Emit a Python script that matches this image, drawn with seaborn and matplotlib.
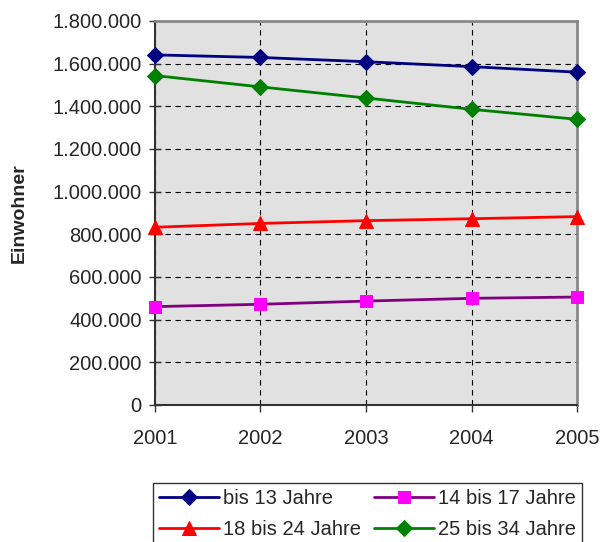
import matplotlib
matplotlib.use("Agg")
import matplotlib.pyplot as plt
import pandas as pd
import seaborn as sns
from matplotlib.ticker import FuncFormatter, MultipleLocator

# Einwohner nach Altersgruppen
YEARS = [2001, 2002, 2003, 2004, 2005]
BIS_13 = [1641000, 1629000, 1609000, 1586000, 1560000]
BIS_17 = [461000, 472000, 487000, 500000, 506000]
BIS_24 = [833000, 851000, 864000, 873000, 883000]
BIS_34 = [1544000, 1491000, 1439000, 1386000, 1339000]

SERIES = [
    ("bis 13 Jahre", BIS_13, "#000080", "#000080", "D", 8),
    ("14 bis 17 Jahre", BIS_17, "#800080", "#FF00FF", "s", 8.5),
    ("18 bis 24 Jahre", BIS_24, "#FF0000", "#FF0000", "^", 10),
    ("25 bis 34 Jahre", BIS_34, "#008000", "#008000", "D", 8),
]

sns.set_theme(style="white")
plt.rcParams["font.family"] = ["Liberation Sans", "DejaVu Sans"]

fig = plt.figure(figsize=(6, 5.42), dpi=100)
ax = fig.add_axes([0.2583, 0.2528, 0.7034, 0.7085])
ax.set_facecolor("#E1E1E1")

for label, values, color, mcolor, marker, ms in SERIES:
    df = pd.DataFrame({"year": YEARS, "value": values})
    sns.lineplot(
        data=df, x="year", y="value", ax=ax, color=color, linewidth=2,
        marker=marker, markersize=ms, markerfacecolor=mcolor,
        markeredgecolor=mcolor, label=label, clip_on=False, zorder=5,
    )

ax.set_xlim(2001, 2005)
ax.set_ylim(0, 1800000)
ax.set_xticks(YEARS)
ax.yaxis.set_major_locator(MultipleLocator(200000))
ax.yaxis.set_major_formatter(
    FuncFormatter(lambda v, _: f"{int(v):,}".replace(",", "."))
)
ax.grid(True, color="black", linestyle=(0, (5, 4)), linewidth=0.8)
ax.set_axisbelow(True)

for side in ["left", "bottom"]:
    ax.spines[side].set_color("#333333")
    ax.spines[side].set_linewidth(1.5)
for side in ["top", "right"]:
    ax.spines[side].set_color("#888888")
    ax.spines[side].set_linewidth(2)
    ax.spines[side].set_visible(True)

ax.tick_params(axis="y", direction="inout", length=9, width=1, color="#333333",
               labelsize=14.5, pad=5, left=True)
ax.tick_params(axis="x", direction="out", length=5, width=1, color="#333333",
               labelsize=14.5, pad=12, bottom=True)
ax.set_xlabel("")
ax.set_ylabel("Einwohner", fontsize=14, fontweight="bold", labelpad=18)

handles, labels = ax.get_legend_handles_labels()
ax.get_legend().remove()
order = [0, 2, 1, 3]
leg = fig.legend(
    [handles[i] for i in order], [labels[i] for i in order],
    loc="lower center", bbox_to_anchor=(0.6125, -0.006),
    ncol=2, fontsize=14.5, frameon=True, fancybox=False, edgecolor="black",
    handlelength=3, columnspacing=0.6, handletextpad=0.2, borderpad=0.3,
    labelspacing=0.6, borderaxespad=0.0,
)
leg.get_frame().set_linewidth(1)

fig.savefig("out.png", dpi=100)
